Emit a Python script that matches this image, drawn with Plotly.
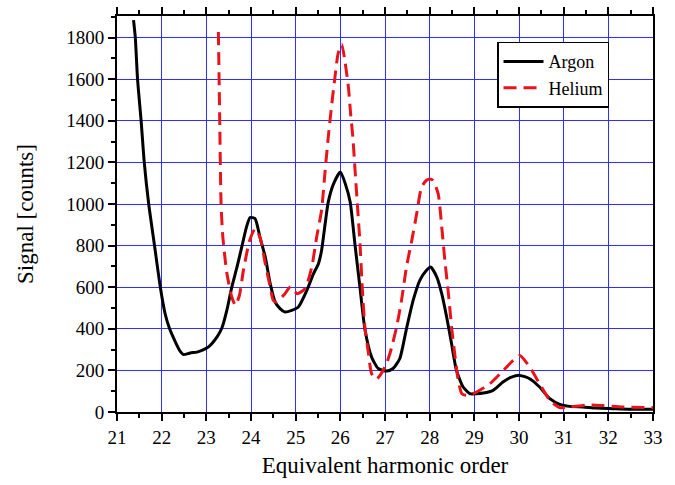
import plotly.graph_objects as go

# Argon spectrum (solid black)
argon_x = [21.37, 21.41, 21.46, 21.54, 21.61, 21.71, 21.84, 21.97, 22.08, 22.17, 22.30,
           22.42, 22.49, 22.64, 22.79, 22.94, 23.05, 23.24, 23.35, 23.46, 23.57, 23.69,
           23.80, 23.90, 23.98, 24.09, 24.20, 24.32, 24.43, 24.54, 24.65, 24.76, 24.91,
           25.06, 25.25, 25.40, 25.51, 25.58, 25.66, 25.73, 25.85, 26.00, 26.11, 26.22,
           26.33, 26.44, 26.55, 26.70, 26.85, 27.04, 27.18, 27.33, 27.48, 27.63, 27.78,
           27.93, 28.02, 28.16, 28.27, 28.38, 28.49, 28.60, 28.75, 28.90, 29.05, 29.20,
           29.42, 29.64, 29.83, 30.02, 30.24, 30.46, 30.69, 30.91, 31.13, 31.43, 31.73,
           32.10, 32.48, 33.00]
argon_y = [1884, 1800, 1600, 1400, 1200, 1000, 800, 600, 470, 405, 340,
           290, 276, 284, 288, 300, 313, 361, 405, 490, 600, 700,
           800, 890, 935, 930, 841, 745, 617, 529, 497, 481, 489,
           505, 585, 665, 713, 777, 905, 1010, 1098, 1154, 1098, 1010,
           801, 598, 398, 264, 209, 197, 209, 256, 400, 537, 633,
           681, 697, 649, 569, 457, 329, 200, 120, 88, 88, 91,
           104, 144, 168, 176, 160, 120, 64, 37, 27, 24, 19,
           16, 13, 13]

# Helium spectrum (dashed red)
helium_x = [23.27, 23.30, 23.33, 23.37, 23.46, 23.57, 23.65, 23.74, 23.83, 23.97, 24.09,
            24.20, 24.32, 24.43, 24.50, 24.58, 24.76, 24.88, 25.03, 25.21, 25.36, 25.47,
            25.58, 25.66, 25.73, 25.81, 25.88, 25.95, 26.03, 26.10, 26.18, 26.23, 26.28,
            26.33, 26.38, 26.44, 26.49, 26.55, 26.63, 26.70, 26.81, 27.00, 27.11, 27.26,
            27.37, 27.48, 27.60, 27.71, 27.82, 27.93, 28.00, 28.07, 28.19, 28.27, 28.34,
            28.42, 28.49, 28.57, 28.64, 28.72, 28.83, 29.05, 29.35, 29.65, 29.87, 30.02,
            30.24, 30.46, 30.69, 30.91, 31.13, 31.57, 31.88, 32.33, 33.00]
helium_y = [1827, 1400, 1000, 840, 667, 553, 513, 560, 681, 825, 880,
            841, 713, 601, 537, 528, 569, 601, 569, 593, 697, 841,
            970, 1162, 1322, 1483, 1611, 1723, 1768, 1691, 1563, 1435, 1322,
            1162, 1002, 810, 601, 409, 281, 185, 158, 216, 281, 409,
            537, 697, 825, 954, 1082, 1114, 1120, 1114, 1050, 890, 729,
            569, 409, 264, 152, 88, 80, 96, 136, 200, 248, 272,
            216, 136, 56, 21, 24, 34, 31, 24, 21]

x_ticks = list(range(21, 34))
y_ticks = list(range(0, 1801, 200))

FONT = "Liberation Serif"
GRID = "#2f2fff"
TICKFONT = dict(family=FONT, size=19, color="black")
TITLEFONT = dict(family=FONT, size=23, color="black")

fig = go.Figure()
fig.add_trace(go.Scatter(
    x=argon_x, y=argon_y, name="Argon", mode="lines",
    line=dict(color="black", width=3, shape="spline", smoothing=0.6),
))
fig.add_trace(go.Scatter(
    x=helium_x, y=helium_y, name="Helium", mode="lines",
    line=dict(color="#e8141c", width=3, dash="13px,7px", shape="spline", smoothing=0.6),
))

fig.update_layout(
    width=675, height=485,
    margin=dict(l=117, r=22, t=16, b=73),
    paper_bgcolor="white", plot_bgcolor="white",
    font=dict(family=FONT, size=19, color="black"),
    showlegend=True,
    legend=dict(
        x=0.709, y=0.935, xanchor="left", yanchor="top",
        bgcolor="white", bordercolor="black", borderwidth=1.5,
        font=dict(family=FONT, size=18, color="black"),
        tracegroupgap=0, itemwidth=40,
    ),
)

fig.update_xaxes(
    range=[21, 33], tickvals=x_ticks, ticktext=[str(v) for v in x_ticks],
    tickfont=TICKFONT, automargin=False,
    showgrid=True, gridcolor=GRID, gridwidth=1.3,
    showline=True, linecolor="black", linewidth=2, mirror="ticks",
    ticks="outside", ticklen=7, tickwidth=2, tickcolor="black",
    minor=dict(dtick=0.5, tick0=21, ticks="outside", ticklen=4, tickwidth=2,
               tickcolor="black", showgrid=False),
    zeroline=False,
    title=dict(text="Equivalent harmonic order", font=TITLEFONT, standoff=10),
)
fig.update_yaxes(
    range=[0, 1904], tickvals=y_ticks, ticktext=[str(v) for v in y_ticks],
    tickfont=TICKFONT, automargin=False,
    showgrid=True, gridcolor=GRID, gridwidth=1.3,
    showline=True, linecolor="black", linewidth=2, mirror=True,
    ticks="outside", ticklen=7, tickwidth=2, tickcolor="black",
    minor=dict(dtick=100, tick0=0, ticks="outside", ticklen=4, tickwidth=2,
               tickcolor="black", showgrid=False),
    zeroline=False,
    title=dict(text="Signal [counts]", font=TITLEFONT, standoff=26),
)

fig.write_html("out.html")
